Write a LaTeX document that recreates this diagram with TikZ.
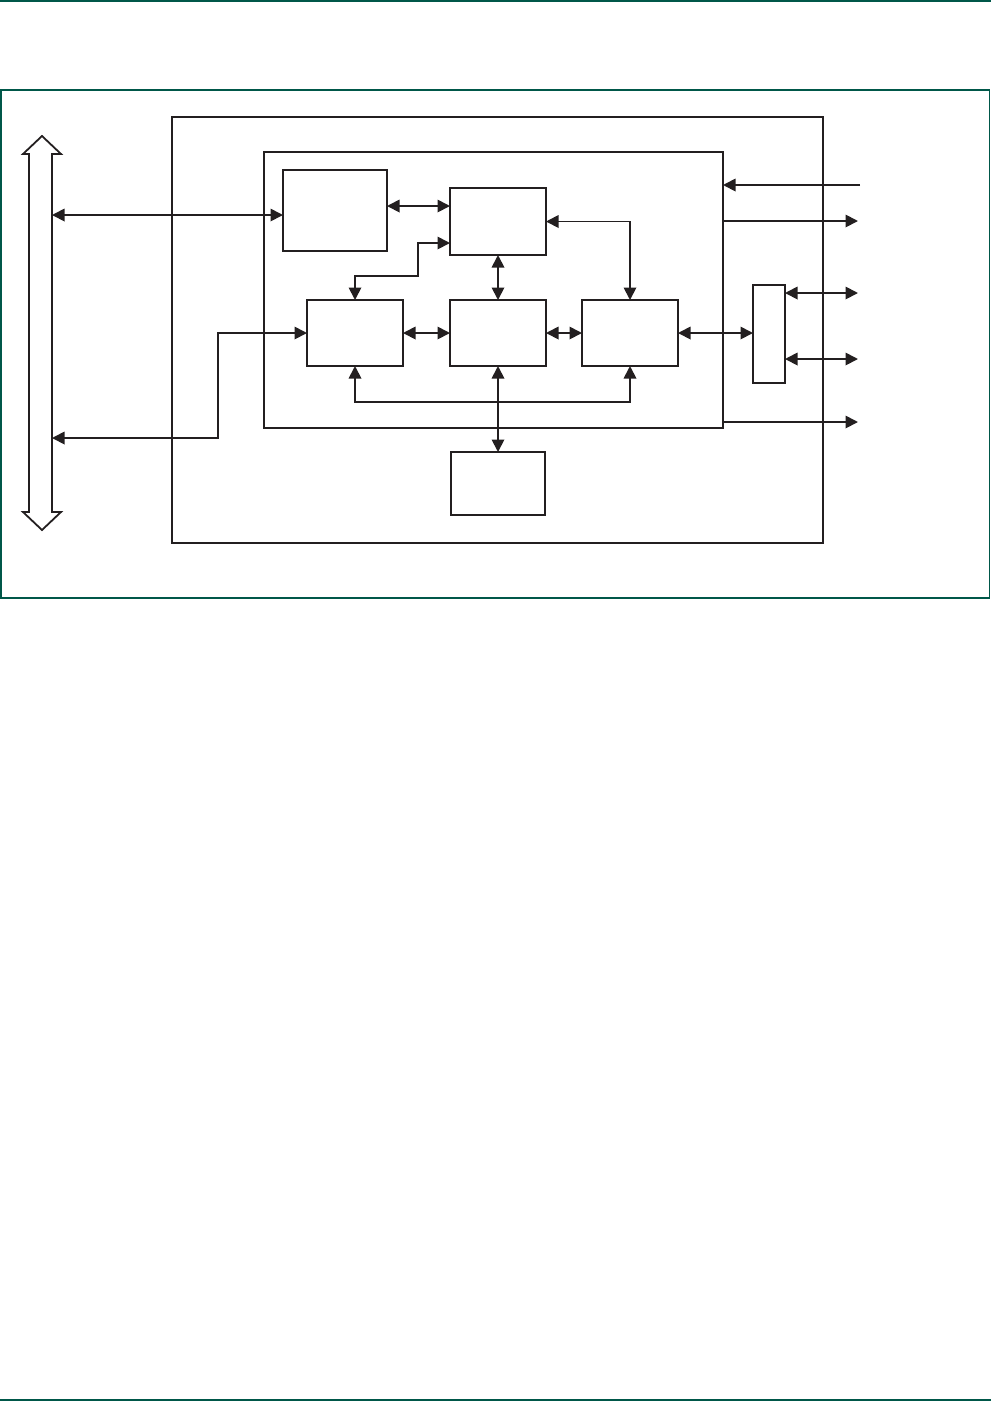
\documentclass[tikz,border=0pt]{standalone}
\usetikzlibrary{arrows.meta,calc}
\definecolor{frameteal}{RGB}{0,87,73}
\definecolor{ink}{RGB}{35,31,32}
\tikzset{
  box/.style={draw=ink, line width=1.8pt, inner sep=0pt, outer sep=0pt, fill=none},
  conn/.style={draw=ink, line width=1.8pt},
  tip/.tip={Triangle[length=12.5pt,width=12.5pt]},
  both/.style={conn, tip-tip},
  toend/.style={conn, -tip},
  rule/.style={draw=frameteal, line width=1.9pt},
}
\begin{document}
\begin{tikzpicture}[x=1pt,y=-1pt]
\useasboundingbox (0,0) rectangle (991,1401);
% page rules and frame
\draw[rule] (0,1) -- (991,1);
\draw[rule] (0,1400) -- (991,1400);
\draw[draw=frameteal, line width=1.6pt] (1,90) rectangle (989.5,598);
% outer and inner blocks
\node[box, minimum width=651pt, minimum height=426pt] (O) at (497.5,330) {};
\node[box, minimum width=459pt, minimum height=276pt] (I) at (493.5,290) {};
% function blocks
\node[box, minimum width=104pt, minimum height=81pt] (A) at (335,210.5) {};
\node[box, minimum width=96pt, minimum height=67pt] (B) at (498,221.5) {};
\node[box, minimum width=96pt, minimum height=66pt] (C) at (355,333) {};
\node[box, minimum width=96pt, minimum height=66pt] (D) at (498,333) {};
\node[box, minimum width=96pt, minimum height=66pt] (E) at (630,333) {};
\node[box, minimum width=94pt, minimum height=63pt] (F) at (498,483.5) {};
\node[box, minimum width=32pt, minimum height=98pt] (G) at (769,334) {};
% bus (open double arrow)
\draw[ink, line width=1.8pt, line join=miter] (42,136) -- (61,154) -- (52,154) -- (52,512) -- (61,512) -- (42,530) -- (23,512) -- (29,512) -- (29,154) -- (23,154) -- cycle;
\coordinate (bA) at (52,215);
\coordinate (bC) at (52,438);
% connectors
\draw[both] (bA) -- (bA -| A.west);
\draw[both] (bC) -| ([xshift=-89pt]C.west) -- (C.west);
\draw[both] (A.east |- 0,206) -- (B.west |- 0,206);
\draw[both] (B.east) -| (E.north);
\draw[both] (B.west |- 0,243) -- (418,243) -- (418,276) -| (C.north);
\draw[both] (B.south) -- (D.north);
\draw[both] (C.east) -- (D.west);
\draw[both] (D.east) -- (E.west);
\draw[both] (E.east) -- (E.east -| G.west);
\draw[both] (C.south) -- ++(0,36) -| (E.south);
\draw[both] (D.south) -- (F.north);
% right side signals
\coordinate (in1) at (860,185);
\coordinate (o1) at (858,221);
\coordinate (g1) at (858,293);
\coordinate (g2) at (858,359);
\coordinate (o2) at (858,422);
\draw[toend] (in1) -- (in1 -| I.east);
\draw[toend] (o1 -| I.east) -- (o1);
\draw[both] (g1 -| G.east) -- (g1);
\draw[both] (g2 -| G.east) -- (g2);
\draw[toend] (o2 -| I.east) -- (o2);
\end{tikzpicture}
\end{document}
